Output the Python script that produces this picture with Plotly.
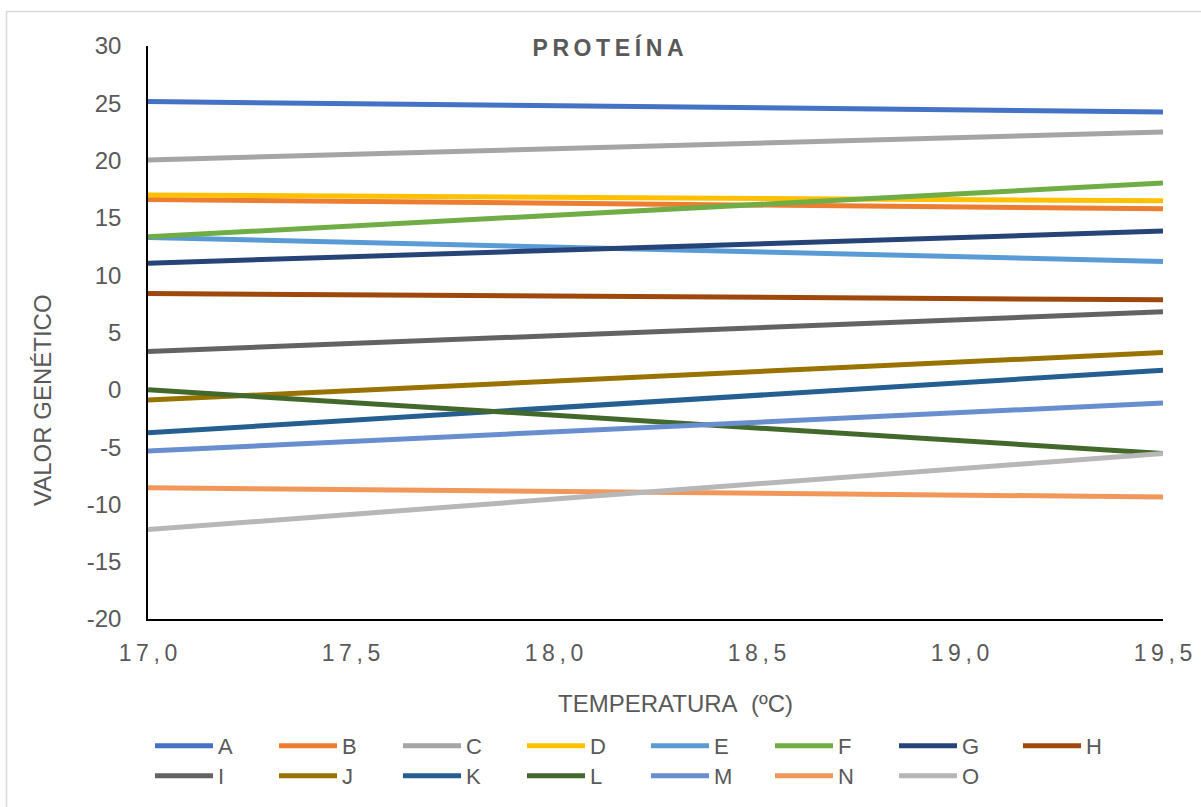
import plotly.graph_objects as go

# Temperature endpoints (ºC) and genetic values for each line
temperatura = [17.0, 19.5]

series_names = ["A", "B", "C", "D", "E", "F", "G", "H",
                "I", "J", "K", "L", "M", "N", "O"]

valor_A = [25.15, 24.25]
valor_B = [16.6, 15.8]
valor_C = [20.05, 22.5]
valor_D = [17.0, 16.5]
valor_E = [13.3, 11.2]
valor_F = [13.35, 18.05]
valor_G = [11.05, 13.85]
valor_H = [8.4, 7.85]
valor_I = [3.35, 6.8]
valor_J = [-0.9, 3.25]
valor_K = [-3.75, 1.7]
valor_L = [0.0, -5.55]
valor_M = [-5.35, -1.15]
valor_N = [-8.55, -9.35]
valor_O = [-12.2, -5.55]

series_values = [valor_A, valor_B, valor_C, valor_D, valor_E, valor_F, valor_G,
                 valor_H, valor_I, valor_J, valor_K, valor_L, valor_M, valor_N,
                 valor_O]

series_colors = ["#4472C4", "#ED7D31", "#A5A5A5", "#FFC000", "#5B9BD5",
                 "#70AD47", "#264478", "#9E480E", "#636363", "#997300",
                 "#255E91", "#43682B", "#698ED0", "#F1975A", "#B7B7B7"]

x_tickvals = [17.0, 17.5, 18.0, 18.5, 19.0, 19.5]
x_ticklabels = ["17,0", "17,5", "18,0", "18,5", "19,0", "19,5"]
y_tickvals = [-20, -15, -10, -5, 0, 5, 10, 15, 20, 25, 30]
y_ticklabels = ["-20", "-15", "-10", "-5", "0", "5", "10", "15", "20", "25", "30"]

TSP = "\u2009"  # thin space used for letter spacing
NBSP = "\u00a0"


def spaced(s):
    return TSP.join(list(s))


W, H = 1201, 807
M_L, M_R, M_T, M_B = 148, 38, 46, 188
PW, PH = W - M_L - M_R, H - M_T - M_B


def px_x(px):
    return (px - M_L) / PW


def px_y(py):
    return (H - M_B - py) / PH


FONT = "Liberation Sans, Arial, sans-serif"
GREY = "#595959"

fig = go.Figure()
for i, (name, vals, col) in enumerate(zip(series_names, series_values, series_colors)):
    fig.add_trace(go.Scatter(
        x=temperatura, y=vals, name=name, mode="lines",
        line=dict(color=col, width=5),
        legend="legend" if i < 8 else "legend2",
    ))

legend_common = dict(
    orientation="h", xanchor="left", yanchor="middle",
    font=dict(family=FONT, size=22, color=GREY),
    entrywidth=51, entrywidthmode="pixels", itemwidth=58,
    bgcolor="rgba(0,0,0,0)", borderwidth=0, tracegroupgap=0,
    itemclick=False, itemdoubleclick=False,
)

fig.update_layout(
    width=W, height=H,
    margin=dict(l=M_L, r=M_R, t=M_T, b=M_B, pad=0, autoexpand=False),
    paper_bgcolor="white", plot_bgcolor="white",
    font=dict(family=FONT, color=GREY, size=24),
    title=dict(text="<b>" + spaced("PROTEÍNA") + "</b>",
               font=dict(family=FONT, size=23, color=GREY),
               x=608 / W, xanchor="center", xref="container",
               y=1 - 48 / H, yanchor="middle", yref="container"),
    xaxis=dict(range=[17.0, 19.5], tickmode="array", tickvals=x_tickvals,
               ticktext=[spaced(t) for t in x_ticklabels],
               showgrid=False, zeroline=False, showline=True,
               linecolor="black", linewidth=1.5, ticks="",
               ticklabelstandoff=13,
               tickfont=dict(family=FONT, size=23, color=GREY)),
    yaxis=dict(range=[-20, 30], tickmode="array", tickvals=y_tickvals,
               ticktext=y_ticklabels,
               showgrid=False, zeroline=False, showline=True,
               linecolor="black", linewidth=1.5, ticks="",
               ticklabelstandoff=20,
               tickfont=dict(family=FONT, size=24, color=GREY)),
    legend=dict(x=px_x(150), y=px_y(746), **legend_common),
    legend2=dict(x=px_x(150), y=px_y(776), **legend_common),
    showlegend=True,
)

# axis titles
fig.add_annotation(text="TEMPERATURA" + NBSP + NBSP + "(ºC)", xref="paper", yref="paper",
                   x=px_x(675), y=px_y(703), showarrow=False,
                   xanchor="center", yanchor="middle",
                   font=dict(family=FONT, size=24, color=GREY))
fig.add_annotation(text="VALOR GENÉTICO", xref="paper", yref="paper",
                   x=px_x(42), y=px_y(400), showarrow=False, textangle=-90,
                   xanchor="center", yanchor="middle",
                   font=dict(family=FONT, size=24, color=GREY))

# chart frame
fig.add_shape(type="rect", xref="paper", yref="paper",
              x0=px_x(6.5), x1=px_x(1215), y0=px_y(820), y1=px_y(11.5),
              line=dict(color="#D9D9D9", width=1.5), fillcolor="rgba(0,0,0,0)",
              layer="below")

fig.write_html("out.html")
